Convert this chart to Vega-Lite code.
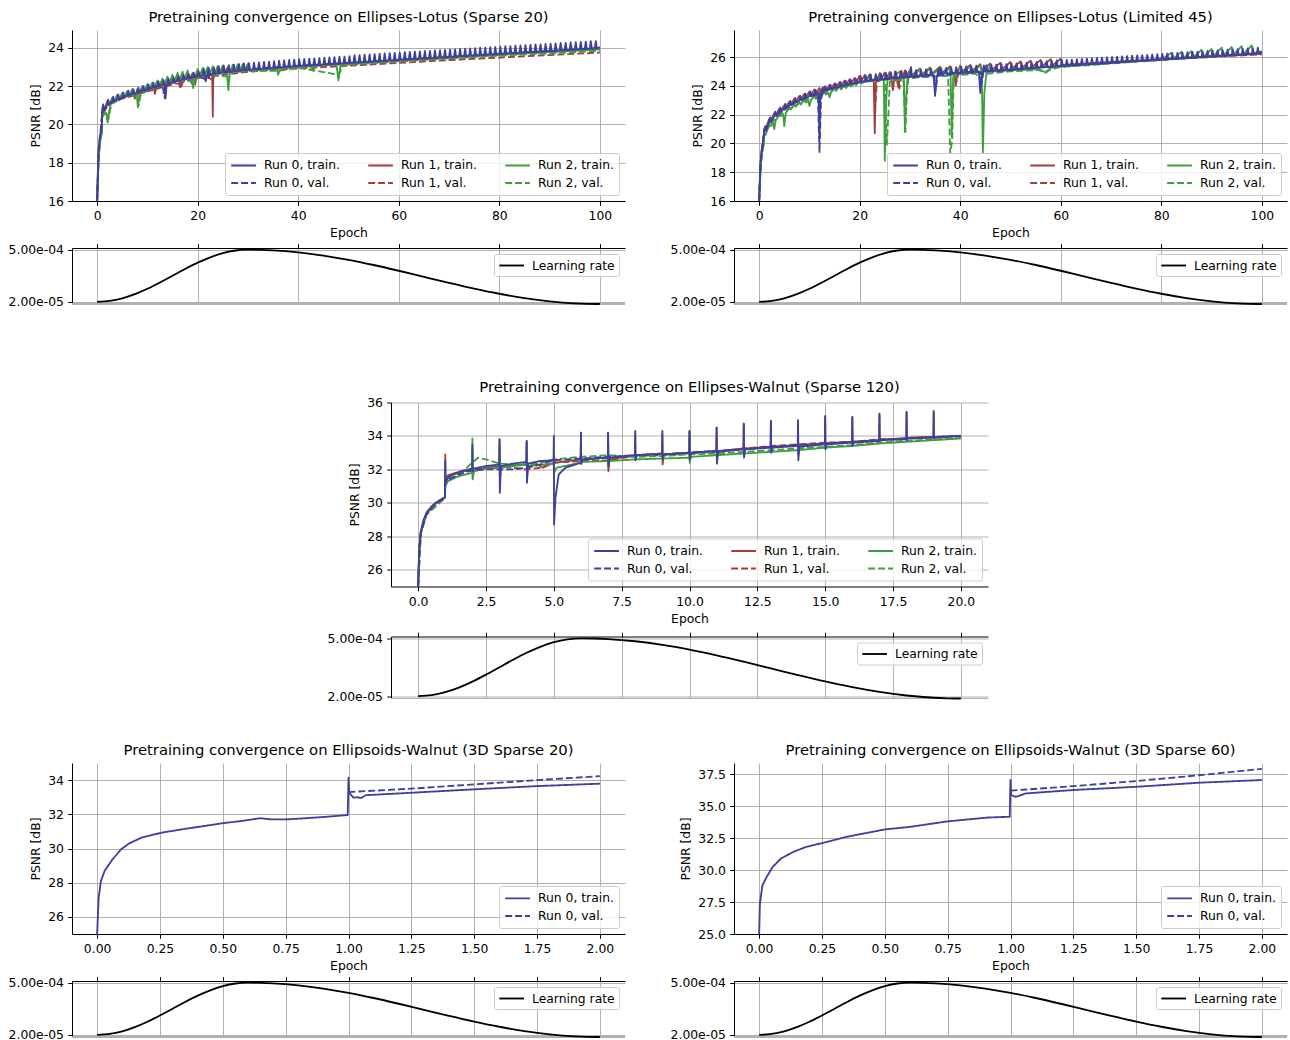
{
"$schema":"https://vega.github.io/schema/vega-lite/v6.json",
"background":"white",
"padding":{"left":8,"top":9,"right":0,"bottom":0},
"config":{
 "font":"DejaVu Sans",
 "view":{"stroke":null},
 "axis":{"labelFont":"DejaVu Sans","labelFontSize":12.36,"labelColor":"#000","titleFont":"DejaVu Sans","titleFontSize":12.36,"titleFontWeight":"normal","titleColor":"#000","tickColor":"#000","tickSize":4.3,"tickWidth":1,"labelPadding":4.3,"domainColor":"#000","domainWidth":1,"gridColor":"#b0b0b0","gridWidth":1,"gridOpacity":1,"titlePadding":4.9,"labelFlush":false,"labelOverlap":false},
 "title":{"font":"DejaVu Sans","fontSize":14.8,"fontWeight":"normal","color":"#000","offset":5.4,"baseline":"bottom","frame":"group","anchor":"middle"},
 "legend":{"offset":6.2,"symbolType":"M-1,0H3","symbolSize":152.6,"symbolStrokeWidth":1.85,"labelFont":"DejaVu Sans","labelFontSize":12.36,"labelColor":"#000","labelOffset":19,"columnPadding":26,"rowPadding":3.6,"padding":4.9,"fillColor":"rgba(255,255,255,0.8)","strokeColor":"#cccccc","strokeWidth":1,"cornerRadius":2.5,"labelLimit":300},
 "line":{"strokeWidth":1.85,"strokeJoin":"round"},
 "rule":{"color":"#b0b0b0","strokeWidth":1}
},
"datasets":{
"LR":[{"e100":0,"e20":0,"e2":0,"lr":2e-5},{"e100":2.5,"e20":0.5,"e2":0.05,"lr":2.818e-5},{"e100":5,"e20":1,"e2":0.1,"lr":5.216e-5},{"e100":7.5,"e20":1.5,"e2":0.15,"lr":9.03e-5},{"e100":10,"e20":2,"e2":0.2,"lr":1.4e-4},{"e100":12.5,"e20":2.5,"e2":0.25,"lr":1.979e-4},{"e100":15,"e20":3,"e2":0.3,"lr":2.6e-4},{"e100":17.5,"e20":3.5,"e2":0.35,"lr":3.221e-4},{"e100":20,"e20":4,"e2":0.4,"lr":3.8e-4},{"e100":22.5,"e20":4.5,"e2":0.45,"lr":4.297e-4},{"e100":25,"e20":5,"e2":0.5,"lr":4.678e-4},{"e100":27.5,"e20":5.5,"e2":0.55,"lr":4.918e-4},{"e100":30,"e20":6,"e2":0.6,"lr":5e-4},{"e100":32.5,"e20":6.5,"e2":0.65,"lr":4.984e-4},{"e100":35,"e20":7,"e2":0.7,"lr":4.937e-4},{"e100":40,"e20":8,"e2":0.8,"lr":4.752e-4},{"e100":45,"e20":9,"e2":0.9,"lr":4.455e-4},{"e100":50,"e20":10,"e2":1,"lr":4.059e-4},{"e100":55,"e20":11,"e2":1.1,"lr":3.585e-4},{"e100":60,"e20":12,"e2":1.2,"lr":3.056e-4},{"e100":65,"e20":13,"e2":1.3,"lr":2.5e-4},{"e100":70,"e20":14,"e2":1.4,"lr":1.944e-4},{"e100":75,"e20":15,"e2":1.5,"lr":1.415e-4},{"e100":80,"e20":16,"e2":1.6,"lr":9.41e-5},{"e100":85,"e20":17,"e2":1.7,"lr":5.45e-5},{"e100":90,"e20":18,"e2":1.8,"lr":2.48e-5},{"e100":95,"e20":19,"e2":1.9,"lr":6.27e-6},{"e100":97.5,"e20":19.5,"e2":1.95,"lr":1.57e-6},{"e100":100,"e20":20,"e2":2,"lr":0}],
"A0t":[{"x":0,"y":16},{"x":0.15,"y":17.6},{"x":0.3,"y":18.7},{"x":0.5,"y":19.3},{"x":0.7,"y":19.6},{"x":0.95,"y":19.9},{"x":1,"y":20.8},{"x":1.2,"y":21.05},{"x":1.4,"y":20.8},{"x":2,"y":21.05},{"x":2.2,"y":21.3},{"x":2.4,"y":21.05},{"x":3,"y":21.2},{"x":3.2,"y":21.45},{"x":3.4,"y":21.2},{"x":4,"y":21.32},{"x":4.2,"y":21.57},{"x":4.4,"y":21.32},{"x":5,"y":21.42},{"x":5.2,"y":21.67},{"x":5.4,"y":21.42},{"x":6,"y":21.52},{"x":6.2,"y":21.77},{"x":6.4,"y":21.52},{"x":7,"y":21.6},{"x":7.2,"y":21.85},{"x":7.4,"y":21.6},{"x":8,"y":21.68},{"x":8.2,"y":21.93},{"x":8.4,"y":21.68},{"x":9,"y":21.76},{"x":9.2,"y":22.01},{"x":9.4,"y":21.76},{"x":10,"y":21.84},{"x":10.2,"y":22.09},{"x":10.4,"y":21.84},{"x":11,"y":21.92},{"x":11.2,"y":22.17},{"x":11.4,"y":21.92},{"x":12,"y":22.0},{"x":12.2,"y":22.25},{"x":12.4,"y":22.0},{"x":13,"y":22.07},{"x":13.2,"y":22.32},{"x":13.4,"y":22.07},{"x":13.6,"y":21.35},{"x":13.8,"y":22.0},{"x":14,"y":22.14},{"x":14.2,"y":22.39},{"x":14.4,"y":22.14},{"x":15,"y":22.21},{"x":15.2,"y":22.46},{"x":15.4,"y":22.21},{"x":16,"y":22.28},{"x":16.2,"y":22.53},{"x":16.4,"y":22.28},{"x":17,"y":22.34},{"x":17.2,"y":22.59},{"x":17.4,"y":22.34},{"x":18,"y":22.4},{"x":18.2,"y":22.65},{"x":18.4,"y":22.4},{"x":19,"y":22.46},{"x":19.2,"y":22.71},{"x":19.4,"y":22.46},{"x":20,"y":22.52},{"x":20.2,"y":22.77},{"x":20.4,"y":22.52},{"x":21,"y":22.57},{"x":21.2,"y":22.92},{"x":21.4,"y":22.57},{"x":21.6,"y":22.25},{"x":21.8,"y":22.55},{"x":22,"y":22.61},{"x":22.2,"y":22.96},{"x":22.4,"y":22.61},{"x":23,"y":22.65},{"x":23.2,"y":23.0},{"x":23.4,"y":22.65},{"x":24,"y":22.69},{"x":24.2,"y":23.04},{"x":24.4,"y":22.69},{"x":25,"y":22.72},{"x":25.2,"y":23.07},{"x":25.4,"y":22.72},{"x":26,"y":22.75},{"x":26.2,"y":23.1},{"x":26.4,"y":22.75},{"x":27,"y":22.78},{"x":27.2,"y":23.13},{"x":27.4,"y":22.78},{"x":28,"y":22.81},{"x":28.2,"y":23.16},{"x":28.4,"y":22.81},{"x":29,"y":22.84},{"x":29.2,"y":23.19},{"x":29.4,"y":22.84},{"x":30,"y":22.86},{"x":30.2,"y":23.21},{"x":30.4,"y":22.86},{"x":31,"y":22.88},{"x":31.2,"y":23.23},{"x":31.4,"y":22.88},{"x":32,"y":22.9},{"x":32.2,"y":23.25},{"x":32.4,"y":22.9},{"x":33,"y":22.92},{"x":33.2,"y":23.27},{"x":33.4,"y":22.92},{"x":34,"y":22.94},{"x":34.2,"y":23.29},{"x":34.4,"y":22.94},{"x":35,"y":22.96},{"x":35.2,"y":23.31},{"x":35.4,"y":22.96},{"x":36,"y":22.98},{"x":36.2,"y":23.33},{"x":36.4,"y":22.98},{"x":37,"y":23.0},{"x":37.2,"y":23.35},{"x":37.4,"y":23.0},{"x":38,"y":23.02},{"x":38.2,"y":23.37},{"x":38.4,"y":23.02},{"x":39,"y":23.04},{"x":39.2,"y":23.39},{"x":39.4,"y":23.04},{"x":40,"y":23.06},{"x":40.2,"y":23.41},{"x":40.4,"y":23.06},{"x":41,"y":23.08},{"x":41.2,"y":23.43},{"x":41.4,"y":23.08},{"x":42,"y":23.09},{"x":42.2,"y":23.44},{"x":42.4,"y":23.09},{"x":43,"y":23.11},{"x":43.2,"y":23.46},{"x":43.4,"y":23.11},{"x":44,"y":23.12},{"x":44.2,"y":23.47},{"x":44.4,"y":23.12},{"x":45,"y":23.14},{"x":45.2,"y":23.49},{"x":45.4,"y":23.14},{"x":46,"y":23.16},{"x":46.2,"y":23.51},{"x":46.4,"y":23.16},{"x":47,"y":23.17},{"x":47.2,"y":23.52},{"x":47.4,"y":23.17},{"x":48,"y":23.19},{"x":48.2,"y":23.54},{"x":48.4,"y":23.19},{"x":49,"y":23.2},{"x":49.2,"y":23.55},{"x":49.4,"y":23.2},{"x":50,"y":23.22},{"x":50.2,"y":23.57},{"x":50.4,"y":23.22},{"x":51,"y":23.24},{"x":51.2,"y":23.62},{"x":51.4,"y":23.24},{"x":52,"y":23.25},{"x":52.2,"y":23.63},{"x":52.4,"y":23.25},{"x":53,"y":23.27},{"x":53.2,"y":23.65},{"x":53.4,"y":23.27},{"x":54,"y":23.28},{"x":54.2,"y":23.66},{"x":54.4,"y":23.28},{"x":55,"y":23.3},{"x":55.2,"y":23.68},{"x":55.4,"y":23.3},{"x":56,"y":23.32},{"x":56.2,"y":23.7},{"x":56.4,"y":23.32},{"x":57,"y":23.33},{"x":57.2,"y":23.71},{"x":57.4,"y":23.33},{"x":58,"y":23.35},{"x":58.2,"y":23.73},{"x":58.4,"y":23.35},{"x":59,"y":23.36},{"x":59.2,"y":23.74},{"x":59.4,"y":23.36},{"x":60,"y":23.38},{"x":60.2,"y":23.76},{"x":60.4,"y":23.38},{"x":61,"y":23.4},{"x":61.2,"y":23.78},{"x":61.4,"y":23.4},{"x":62,"y":23.41},{"x":62.2,"y":23.79},{"x":62.4,"y":23.41},{"x":63,"y":23.43},{"x":63.2,"y":23.81},{"x":63.4,"y":23.43},{"x":64,"y":23.44},{"x":64.2,"y":23.82},{"x":64.4,"y":23.44},{"x":65,"y":23.46},{"x":65.2,"y":23.84},{"x":65.4,"y":23.46},{"x":66,"y":23.47},{"x":66.2,"y":23.85},{"x":66.4,"y":23.47},{"x":67,"y":23.49},{"x":67.2,"y":23.87},{"x":67.4,"y":23.49},{"x":68,"y":23.5},{"x":68.2,"y":23.88},{"x":68.4,"y":23.5},{"x":69,"y":23.52},{"x":69.2,"y":23.9},{"x":69.4,"y":23.52},{"x":70,"y":23.53},{"x":70.2,"y":23.91},{"x":70.4,"y":23.53},{"x":71,"y":23.55},{"x":71.2,"y":23.93},{"x":71.4,"y":23.55},{"x":72,"y":23.57},{"x":72.2,"y":23.95},{"x":72.4,"y":23.57},{"x":73,"y":23.58},{"x":73.2,"y":23.96},{"x":73.4,"y":23.58},{"x":74,"y":23.6},{"x":74.2,"y":23.98},{"x":74.4,"y":23.6},{"x":75,"y":23.61},{"x":75.2,"y":23.99},{"x":75.4,"y":23.61},{"x":76,"y":23.63},{"x":76.2,"y":24.01},{"x":76.4,"y":23.63},{"x":77,"y":23.64},{"x":77.2,"y":24.02},{"x":77.4,"y":23.64},{"x":78,"y":23.66},{"x":78.2,"y":24.04},{"x":78.4,"y":23.66},{"x":79,"y":23.67},{"x":79.2,"y":24.05},{"x":79.4,"y":23.67},{"x":80,"y":23.69},{"x":80.2,"y":24.07},{"x":80.4,"y":23.69},{"x":81,"y":23.71},{"x":81.2,"y":24.09},{"x":81.4,"y":23.71},{"x":82,"y":23.72},{"x":82.2,"y":24.1},{"x":82.4,"y":23.72},{"x":83,"y":23.74},{"x":83.2,"y":24.12},{"x":83.4,"y":23.74},{"x":84,"y":23.75},{"x":84.2,"y":24.13},{"x":84.4,"y":23.75},{"x":85,"y":23.77},{"x":85.2,"y":24.15},{"x":85.4,"y":23.77},{"x":86,"y":23.78},{"x":86.2,"y":24.16},{"x":86.4,"y":23.78},{"x":87,"y":23.8},{"x":87.2,"y":24.18},{"x":87.4,"y":23.8},{"x":88,"y":23.81},{"x":88.2,"y":24.19},{"x":88.4,"y":23.81},{"x":89,"y":23.83},{"x":89.2,"y":24.21},{"x":89.4,"y":23.83},{"x":90,"y":23.84},{"x":90.2,"y":24.22},{"x":90.4,"y":23.84},{"x":91,"y":23.86},{"x":91.2,"y":24.24},{"x":91.4,"y":23.86},{"x":92,"y":23.88},{"x":92.2,"y":24.26},{"x":92.4,"y":23.88},{"x":93,"y":23.89},{"x":93.2,"y":24.27},{"x":93.4,"y":23.89},{"x":94,"y":23.91},{"x":94.2,"y":24.29},{"x":94.4,"y":23.91},{"x":95,"y":23.92},{"x":95.2,"y":24.3},{"x":95.4,"y":23.92},{"x":96,"y":23.94},{"x":96.2,"y":24.32},{"x":96.4,"y":23.94},{"x":97,"y":23.95},{"x":97.2,"y":24.33},{"x":97.4,"y":23.95},{"x":98,"y":23.97},{"x":98.2,"y":24.35},{"x":98.4,"y":23.97},{"x":99,"y":23.98},{"x":99.2,"y":24.36},{"x":99.4,"y":23.98},{"x":100,"y":24.05}],
"A0v":[{"x":0,"y":16},{"x":0.3,"y":18.6},{"x":0.6,"y":19.4},{"x":1,"y":20.6},{"x":2,"y":21.0},{"x":3,"y":21.2},{"x":5,"y":21.4},{"x":7,"y":21.6},{"x":10,"y":21.85},{"x":12,"y":22.0},{"x":13,"y":22.05},{"x":13.4,"y":21.4},{"x":13.7,"y":22.05},{"x":16,"y":22.3},{"x":20,"y":22.55},{"x":22,"y":22.3},{"x":22.4,"y":22.62},{"x":25,"y":22.73},{"x":30,"y":22.88},{"x":35,"y":22.98},{"x":40,"y":23.07},{"x":50,"y":23.22},{"x":60,"y":23.38},{"x":70,"y":23.53},{"x":80,"y":23.69},{"x":90,"y":23.84},{"x":100,"y":24.0}],
"A1t":[{"x":0,"y":16},{"x":0.3,"y":18.5},{"x":0.6,"y":19.3},{"x":0.95,"y":19.6},{"x":1,"y":20.7},{"x":1.3,"y":20.6},{"x":2,"y":21.2},{"x":2.3,"y":21.0},{"x":3,"y":21.35},{"x":3.3,"y":21.15},{"x":4,"y":21.45},{"x":4.3,"y":21.27},{"x":5,"y":21.55},{"x":5.3,"y":21.37},{"x":6,"y":21.65},{"x":6.3,"y":21.47},{"x":7,"y":21.75},{"x":7.3,"y":21.55},{"x":7.5,"y":21.35},{"x":7.7,"y":21.55},{"x":8,"y":21.85},{"x":8.3,"y":21.63},{"x":9,"y":21.95},{"x":9.3,"y":21.71},{"x":10,"y":22.05},{"x":10.3,"y":21.79},{"x":11,"y":22.13},{"x":11.3,"y":21.87},{"x":11.5,"y":21.6},{"x":11.7,"y":21.85},{"x":12,"y":22.2},{"x":12.3,"y":21.95},{"x":13,"y":22.28},{"x":13.3,"y":22.02},{"x":14,"y":22.36},{"x":14.3,"y":22.09},{"x":15,"y":22.43},{"x":15.3,"y":22.16},{"x":16,"y":22.5},{"x":16.3,"y":22.23},{"x":16.5,"y":21.95},{"x":16.7,"y":22.2},{"x":17,"y":22.56},{"x":17.3,"y":22.29},{"x":18,"y":22.62},{"x":18.3,"y":22.35},{"x":19,"y":22.68},{"x":19.3,"y":22.41},{"x":19.5,"y":22.1},{"x":19.7,"y":22.4},{"x":20,"y":22.74},{"x":20.3,"y":22.47},{"x":21,"y":22.85},{"x":21.3,"y":22.52},{"x":22,"y":22.9},{"x":22.3,"y":22.56},{"x":22.9,"y":22.6},{"x":23,"y":20.4},{"x":23.1,"y":22.55},{"x":23.3,"y":22.6},{"x":24,"y":22.95},{"x":24.3,"y":22.64},{"x":25,"y":22.98},{"x":25.3,"y":22.67},{"x":26,"y":23.0},{"x":26.3,"y":22.7},{"x":27,"y":23.03},{"x":27.3,"y":22.73},{"x":28,"y":23.05},{"x":28.3,"y":22.76},{"x":29,"y":23.08},{"x":29.3,"y":22.79},{"x":30,"y":23.1},{"x":30.3,"y":22.81},{"x":35,"y":22.91},{"x":40,"y":23.01},{"x":45,"y":23.09},{"x":50,"y":23.17},{"x":55,"y":23.25},{"x":60,"y":23.33},{"x":65,"y":23.41},{"x":70,"y":23.48},{"x":75,"y":23.56},{"x":80,"y":23.64},{"x":85,"y":23.72},{"x":90,"y":23.79},{"x":95,"y":23.87},{"x":100,"y":23.95}],
"A1v":[{"x":0,"y":16},{"x":0.3,"y":18.4},{"x":0.6,"y":19.2},{"x":1,"y":20.5},{"x":2,"y":20.95},{"x":3,"y":21.15},{"x":5,"y":21.35},{"x":7,"y":21.5},{"x":9,"y":21.65},{"x":11,"y":21.8},{"x":13,"y":21.95},{"x":15,"y":22.1},{"x":16.3,"y":22.15},{"x":16.6,"y":21.9},{"x":17,"y":22.2},{"x":20,"y":22.42},{"x":22,"y":22.5},{"x":23,"y":22.3},{"x":23.3,"y":22.55},{"x":25,"y":22.6},{"x":30,"y":22.75},{"x":35,"y":22.85},{"x":40,"y":22.93},{"x":50,"y":23.07},{"x":60,"y":23.22},{"x":70,"y":23.37},{"x":80,"y":23.5},{"x":90,"y":23.63},{"x":100,"y":23.76}],
"A2t":[{"x":0,"y":16},{"x":0.3,"y":18.4},{"x":0.6,"y":19.2},{"x":0.95,"y":19.5},{"x":1,"y":20.6},{"x":1.3,"y":20.5},{"x":1.8,"y":20.6},{"x":2.1,"y":20.1},{"x":2.4,"y":20.7},{"x":3,"y":21.4},{"x":3.3,"y":21.15},{"x":4,"y":21.55},{"x":4.3,"y":21.28},{"x":5,"y":21.65},{"x":5.3,"y":21.38},{"x":6,"y":21.75},{"x":6.3,"y":21.48},{"x":7,"y":21.85},{"x":7.3,"y":21.56},{"x":7.9,"y":21.6},{"x":8.1,"y":20.9},{"x":8.4,"y":21.6},{"x":9,"y":22.0},{"x":9.3,"y":21.72},{"x":10,"y":22.1},{"x":10.3,"y":21.8},{"x":11,"y":22.2},{"x":11.3,"y":21.88},{"x":12,"y":22.3},{"x":12.3,"y":21.96},{"x":13,"y":22.4},{"x":13.3,"y":22.03},{"x":14,"y":22.5},{"x":14.3,"y":22.1},{"x":15,"y":22.6},{"x":15.3,"y":22.17},{"x":16,"y":22.7},{"x":16.3,"y":22.24},{"x":17,"y":22.76},{"x":17.3,"y":22.3},{"x":18,"y":22.82},{"x":18.3,"y":22.36},{"x":18.8,"y":22.4},{"x":19.1,"y":21.9},{"x":19.4,"y":22.4},{"x":20,"y":22.9},{"x":20.3,"y":22.48},{"x":21,"y":22.95},{"x":21.3,"y":22.53},{"x":22,"y":23.0},{"x":22.3,"y":22.57},{"x":23,"y":23.03},{"x":23.3,"y":22.61},{"x":24,"y":23.06},{"x":24.3,"y":22.65},{"x":25,"y":23.09},{"x":25.3,"y":22.68},{"x":25.8,"y":22.7},{"x":26.1,"y":21.8},{"x":26.4,"y":22.7},{"x":27,"y":23.12},{"x":27.3,"y":22.74},{"x":28,"y":23.14},{"x":28.3,"y":22.77},{"x":29,"y":23.16},{"x":29.3,"y":22.8},{"x":30,"y":23.18},{"x":30.3,"y":22.82},{"x":35,"y":22.93},{"x":35.7,"y":22.95},{"x":36,"y":22.6},{"x":36.4,"y":22.95},{"x":40,"y":23.03},{"x":42.7,"y":23.07},{"x":43,"y":22.8},{"x":43.4,"y":23.08},{"x":45,"y":23.1},{"x":47.6,"y":23.15},{"x":48,"y":22.3},{"x":48.4,"y":23.1},{"x":48.8,"y":23.16},{"x":50,"y":23.18},{"x":60,"y":23.35},{"x":70,"y":23.5},{"x":80,"y":23.65},{"x":90,"y":23.8},{"x":100,"y":23.93}],
"A2v":[{"x":0,"y":16},{"x":0.3,"y":18.3},{"x":0.6,"y":19.1},{"x":1,"y":20.4},{"x":2,"y":20.5},{"x":2.3,"y":20.3},{"x":2.6,"y":20.8},{"x":3,"y":21.1},{"x":5,"y":21.4},{"x":7,"y":21.55},{"x":8,"y":21.3},{"x":8.3,"y":21.0},{"x":8.6,"y":21.5},{"x":10,"y":21.8},{"x":12,"y":22.0},{"x":15,"y":22.25},{"x":18,"y":22.45},{"x":19,"y":22.1},{"x":19.5,"y":22.4},{"x":22,"y":22.6},{"x":26,"y":22.5},{"x":26.5,"y":22.7},{"x":30,"y":22.8},{"x":36,"y":22.8},{"x":40,"y":22.97},{"x":48,"y":22.6},{"x":49,"y":23.1},{"x":60,"y":23.3},{"x":70,"y":23.45},{"x":80,"y":23.6},{"x":90,"y":23.72},{"x":100,"y":23.85}],
"B0t":[{"x":0,"y":16},{"x":0.15,"y":17.5},{"x":0.3,"y":18.7},{"x":0.5,"y":19.5},{"x":0.75,"y":20.1},{"x":0.95,"y":20.5},{"x":1,"y":20.9},{"x":1.2,"y":21.2},{"x":1.4,"y":20.9},{"x":2,"y":21.5},{"x":2.2,"y":21.8},{"x":2.4,"y":21.5},{"x":3,"y":21.9},{"x":3.2,"y":22.2},{"x":3.4,"y":21.9},{"x":4,"y":22.2},{"x":4.2,"y":22.5},{"x":4.4,"y":22.2},{"x":5,"y":22.45},{"x":5.2,"y":22.75},{"x":5.4,"y":22.45},{"x":6,"y":22.65},{"x":6.2,"y":22.95},{"x":6.4,"y":22.65},{"x":7,"y":22.85},{"x":7.2,"y":23.15},{"x":7.4,"y":22.85},{"x":8,"y":23.0},{"x":8.2,"y":23.3},{"x":8.4,"y":23.0},{"x":9,"y":23.15},{"x":9.2,"y":23.45},{"x":9.4,"y":23.15},{"x":10,"y":23.3},{"x":10.2,"y":23.6},{"x":10.4,"y":23.3},{"x":11,"y":23.42},{"x":11.2,"y":23.72},{"x":11.4,"y":23.42},{"x":11.8,"y":23.5},{"x":12,"y":20.3},{"x":12.2,"y":23.4},{"x":12.4,"y":23.55},{"x":12.6,"y":23.85},{"x":12.8,"y":23.55},{"x":13,"y":23.66},{"x":13.2,"y":23.96},{"x":13.4,"y":23.66},{"x":14,"y":23.77},{"x":14.2,"y":24.07},{"x":14.4,"y":23.77},{"x":15,"y":23.87},{"x":15.2,"y":24.17},{"x":15.4,"y":23.87},{"x":16,"y":23.96},{"x":16.2,"y":24.26},{"x":16.4,"y":23.96},{"x":17,"y":24.05},{"x":17.2,"y":24.35},{"x":17.4,"y":24.05},{"x":18,"y":24.13},{"x":18.2,"y":24.43},{"x":18.4,"y":24.13},{"x":19,"y":24.2},{"x":19.2,"y":24.5},{"x":19.4,"y":24.2},{"x":20,"y":24.27},{"x":20.2,"y":24.67},{"x":20.4,"y":24.27},{"x":21,"y":24.32},{"x":21.2,"y":24.72},{"x":21.4,"y":24.32},{"x":22,"y":24.37},{"x":22.2,"y":24.77},{"x":22.4,"y":24.37},{"x":23,"y":24.41},{"x":23.2,"y":24.81},{"x":23.4,"y":24.41},{"x":24,"y":24.45},{"x":24.2,"y":24.85},{"x":24.4,"y":24.45},{"x":25,"y":24.49},{"x":25.2,"y":24.89},{"x":25.4,"y":24.49},{"x":26,"y":24.53},{"x":26.2,"y":24.93},{"x":26.4,"y":24.53},{"x":27,"y":24.56},{"x":27.2,"y":24.96},{"x":27.4,"y":24.56},{"x":28,"y":24.59},{"x":28.2,"y":24.99},{"x":28.4,"y":24.59},{"x":29,"y":24.62},{"x":29.2,"y":25.02},{"x":29.4,"y":24.62},{"x":30,"y":24.65},{"x":30.2,"y":25.3},{"x":30.4,"y":24.65},{"x":31,"y":24.68},{"x":31.2,"y":25.08},{"x":31.4,"y":24.68},{"x":32,"y":24.71},{"x":32.2,"y":25.11},{"x":32.4,"y":24.71},{"x":33,"y":24.74},{"x":33.2,"y":25.14},{"x":33.4,"y":24.74},{"x":34,"y":24.77},{"x":34.2,"y":25.17},{"x":34.4,"y":24.77},{"x":34.7,"y":24.7},{"x":35,"y":23.3},{"x":35.3,"y":24.6},{"x":35.5,"y":24.8},{"x":35.7,"y":25.2},{"x":35.9,"y":24.8},{"x":36,"y":24.83},{"x":36.2,"y":25.23},{"x":36.4,"y":24.83},{"x":37,"y":24.85},{"x":37.2,"y":25.25},{"x":37.4,"y":24.85},{"x":38,"y":24.87},{"x":38.2,"y":25.27},{"x":38.4,"y":24.87},{"x":39,"y":24.9},{"x":39.2,"y":25.3},{"x":39.4,"y":24.9},{"x":40,"y":24.92},{"x":40.2,"y":25.32},{"x":40.4,"y":24.92},{"x":41,"y":24.95},{"x":41.2,"y":25.35},{"x":41.4,"y":24.95},{"x":42,"y":24.97},{"x":42.2,"y":25.37},{"x":42.4,"y":24.97},{"x":43,"y":24.99},{"x":43.2,"y":25.39},{"x":43.4,"y":24.99},{"x":43.7,"y":25.0},{"x":44,"y":23.5},{"x":44.3,"y":24.9},{"x":44.5,"y":25.01},{"x":44.7,"y":25.41},{"x":44.9,"y":25.01},{"x":45,"y":25.03},{"x":45.2,"y":25.43},{"x":45.4,"y":25.03},{"x":46,"y":25.05},{"x":46.2,"y":25.45},{"x":46.4,"y":25.05},{"x":47,"y":25.07},{"x":47.2,"y":25.47},{"x":47.4,"y":25.07},{"x":48,"y":25.09},{"x":48.2,"y":25.49},{"x":48.4,"y":25.09},{"x":49,"y":25.11},{"x":49.2,"y":25.51},{"x":49.4,"y":25.11},{"x":50,"y":25.13},{"x":50.2,"y":25.53},{"x":50.4,"y":25.13},{"x":51,"y":25.16},{"x":51.2,"y":25.56},{"x":51.4,"y":25.16},{"x":52,"y":25.18},{"x":52.2,"y":25.58},{"x":52.4,"y":25.18},{"x":53,"y":25.21},{"x":53.2,"y":25.61},{"x":53.4,"y":25.21},{"x":54,"y":25.23},{"x":54.2,"y":25.63},{"x":54.4,"y":25.23},{"x":55,"y":25.26},{"x":55.2,"y":25.66},{"x":55.4,"y":25.26},{"x":56,"y":25.28},{"x":56.2,"y":25.68},{"x":56.4,"y":25.28},{"x":57,"y":25.31},{"x":57.2,"y":25.71},{"x":57.4,"y":25.31},{"x":58,"y":25.33},{"x":58.2,"y":25.73},{"x":58.4,"y":25.33},{"x":59,"y":25.36},{"x":59.2,"y":25.76},{"x":59.4,"y":25.36},{"x":60,"y":25.38},{"x":60.2,"y":25.78},{"x":60.4,"y":25.38},{"x":61,"y":25.4},{"x":61.2,"y":25.8},{"x":61.4,"y":25.4},{"x":62,"y":25.42},{"x":62.2,"y":25.82},{"x":62.4,"y":25.42},{"x":63,"y":25.44},{"x":63.2,"y":25.84},{"x":63.4,"y":25.44},{"x":64,"y":25.47},{"x":64.2,"y":25.87},{"x":64.4,"y":25.47},{"x":65,"y":25.49},{"x":65.2,"y":25.89},{"x":65.4,"y":25.49},{"x":66,"y":25.51},{"x":66.2,"y":25.91},{"x":66.4,"y":25.51},{"x":67,"y":25.53},{"x":67.2,"y":25.93},{"x":67.4,"y":25.53},{"x":68,"y":25.55},{"x":68.2,"y":25.95},{"x":68.4,"y":25.55},{"x":69,"y":25.58},{"x":69.2,"y":25.98},{"x":69.4,"y":25.58},{"x":70,"y":25.6},{"x":70.2,"y":26.0},{"x":70.4,"y":25.6},{"x":71,"y":25.62},{"x":71.2,"y":26.02},{"x":71.4,"y":25.62},{"x":72,"y":25.64},{"x":72.2,"y":26.04},{"x":72.4,"y":25.64},{"x":73,"y":25.66},{"x":73.2,"y":26.06},{"x":73.4,"y":25.66},{"x":74,"y":25.69},{"x":74.2,"y":26.09},{"x":74.4,"y":25.69},{"x":75,"y":25.71},{"x":75.2,"y":26.11},{"x":75.4,"y":25.71},{"x":76,"y":25.73},{"x":76.2,"y":26.13},{"x":76.4,"y":25.73},{"x":77,"y":25.75},{"x":77.2,"y":26.15},{"x":77.4,"y":25.75},{"x":78,"y":25.77},{"x":78.2,"y":26.17},{"x":78.4,"y":25.77},{"x":79,"y":25.8},{"x":79.2,"y":26.2},{"x":79.4,"y":25.8},{"x":80,"y":25.82},{"x":80.2,"y":26.22},{"x":80.4,"y":25.82},{"x":81,"y":25.84},{"x":81.2,"y":26.24},{"x":81.4,"y":25.84},{"x":82,"y":25.86},{"x":82.2,"y":26.26},{"x":82.4,"y":25.86},{"x":83,"y":25.88},{"x":83.2,"y":26.28},{"x":83.4,"y":25.88},{"x":84,"y":25.91},{"x":84.2,"y":26.31},{"x":84.4,"y":25.91},{"x":85,"y":25.93},{"x":85.2,"y":26.33},{"x":85.4,"y":25.93},{"x":86,"y":25.95},{"x":86.2,"y":26.35},{"x":86.4,"y":25.95},{"x":87,"y":25.97},{"x":87.2,"y":26.37},{"x":87.4,"y":25.97},{"x":88,"y":25.99},{"x":88.2,"y":26.39},{"x":88.4,"y":25.99},{"x":89,"y":26.02},{"x":89.2,"y":26.42},{"x":89.4,"y":26.02},{"x":90,"y":26.04},{"x":90.2,"y":26.44},{"x":90.4,"y":26.04},{"x":91,"y":26.06},{"x":91.2,"y":26.46},{"x":91.4,"y":26.06},{"x":92,"y":26.08},{"x":92.2,"y":26.48},{"x":92.4,"y":26.08},{"x":93,"y":26.1},{"x":93.2,"y":26.5},{"x":93.4,"y":26.1},{"x":94,"y":26.13},{"x":94.2,"y":26.53},{"x":94.4,"y":26.13},{"x":95,"y":26.15},{"x":95.2,"y":26.55},{"x":95.4,"y":26.15},{"x":96,"y":26.17},{"x":96.2,"y":26.57},{"x":96.4,"y":26.17},{"x":97,"y":26.19},{"x":97.2,"y":26.59},{"x":97.4,"y":26.19},{"x":98,"y":26.21},{"x":98.2,"y":26.61},{"x":98.4,"y":26.21},{"x":99,"y":26.24},{"x":99.2,"y":26.64},{"x":99.4,"y":26.24},{"x":100,"y":26.35}],
"B0v":[{"x":0,"y":16},{"x":0.3,"y":18.6},{"x":0.6,"y":19.6},{"x":1,"y":20.8},{"x":2,"y":21.4},{"x":3,"y":21.8},{"x":5,"y":22.35},{"x":7,"y":22.8},{"x":9,"y":23.1},{"x":11,"y":23.35},{"x":11.7,"y":23.4},{"x":12,"y":19.4},{"x":12.3,"y":23.0},{"x":12.6,"y":23.55},{"x":14,"y":23.75},{"x":16,"y":23.95},{"x":18,"y":24.1},{"x":20,"y":24.25},{"x":22,"y":24.35},{"x":25,"y":24.45},{"x":30,"y":24.6},{"x":34.8,"y":24.7},{"x":35.1,"y":23.7},{"x":35.5,"y":24.7},{"x":40,"y":24.85},{"x":44,"y":24.95},{"x":44.3,"y":24.2},{"x":44.6,"y":24.95},{"x":50,"y":25.1},{"x":60,"y":25.38},{"x":70,"y":25.6},{"x":80,"y":25.82},{"x":90,"y":26.04},{"x":100,"y":26.25}],
"B1t":[{"x":0,"y":16},{"x":0.3,"y":18.8},{"x":0.6,"y":19.8},{"x":0.95,"y":20.3},{"x":1,"y":21.0},{"x":1.3,"y":21.0},{"x":2,"y":21.7},{"x":2.3,"y":21.55},{"x":3,"y":22.1},{"x":3.3,"y":21.95},{"x":4,"y":22.4},{"x":4.3,"y":22.25},{"x":5,"y":22.65},{"x":5.3,"y":22.5},{"x":6,"y":22.9},{"x":6.3,"y":22.7},{"x":7,"y":23.1},{"x":7.3,"y":22.9},{"x":8,"y":23.3},{"x":8.3,"y":23.05},{"x":9,"y":23.45},{"x":9.3,"y":23.2},{"x":10,"y":23.6},{"x":10.3,"y":23.35},{"x":11,"y":23.75},{"x":11.3,"y":23.47},{"x":12,"y":23.85},{"x":12.3,"y":23.6},{"x":13,"y":23.95},{"x":13.3,"y":23.7},{"x":14,"y":24.05},{"x":14.3,"y":23.8},{"x":15,"y":24.15},{"x":15.3,"y":23.9},{"x":16,"y":24.25},{"x":16.3,"y":24.0},{"x":17,"y":24.35},{"x":17.3,"y":24.08},{"x":18,"y":24.45},{"x":18.3,"y":24.15},{"x":19,"y":24.55},{"x":19.3,"y":24.22},{"x":20,"y":24.7},{"x":20.3,"y":24.3},{"x":21,"y":24.75},{"x":21.3,"y":24.35},{"x":22,"y":24.8},{"x":22.3,"y":24.4},{"x":22.8,"y":24.4},{"x":23,"y":20.7},{"x":23.2,"y":24.2},{"x":23.5,"y":24.4},{"x":24,"y":24.88},{"x":24.3,"y":24.48},{"x":25,"y":24.92},{"x":25.3,"y":24.52},{"x":26,"y":24.96},{"x":26.3,"y":24.56},{"x":26.6,"y":23.7},{"x":26.9,"y":24.5},{"x":27,"y":25.0},{"x":27.3,"y":24.6},{"x":27.7,"y":23.9},{"x":28,"y":24.6},{"x":28.3,"y":25.03},{"x":28.6,"y":24.63},{"x":29,"y":25.06},{"x":29.3,"y":24.66},{"x":30,"y":25.1},{"x":30.3,"y":24.7},{"x":32,"y":25.2},{"x":32.3,"y":24.76},{"x":34,"y":25.27},{"x":34.3,"y":24.82},{"x":36,"y":25.32},{"x":36.3,"y":24.88},{"x":38,"y":25.36},{"x":38.3,"y":24.92},{"x":38.8,"y":24.9},{"x":39.1,"y":24.0},{"x":39.4,"y":24.9},{"x":40,"y":25.4},{"x":40.3,"y":24.97},{"x":42,"y":25.45},{"x":42.3,"y":25.02},{"x":44,"y":25.5},{"x":44.3,"y":25.06},{"x":46,"y":25.55},{"x":46.3,"y":25.1},{"x":48,"y":25.6},{"x":48.3,"y":25.14},{"x":50,"y":25.65},{"x":50.3,"y":25.18},{"x":52,"y":25.7},{"x":52.3,"y":25.24},{"x":54,"y":25.75},{"x":54.3,"y":25.3},{"x":56,"y":25.8},{"x":56.3,"y":25.35},{"x":58,"y":25.85},{"x":58.3,"y":25.4},{"x":60,"y":25.88},{"x":60.3,"y":25.45},{"x":70,"y":25.65},{"x":80,"y":25.85},{"x":90,"y":26.05},{"x":100,"y":26.25}],
"B1v":[{"x":0,"y":16},{"x":0.3,"y":18.7},{"x":0.6,"y":19.7},{"x":1,"y":20.9},{"x":2,"y":21.5},{"x":3,"y":21.9},{"x":5,"y":22.5},{"x":7,"y":22.9},{"x":9,"y":23.2},{"x":11,"y":23.45},{"x":13,"y":23.7},{"x":15,"y":23.9},{"x":17,"y":24.05},{"x":20,"y":24.25},{"x":22.8,"y":24.35},{"x":23.1,"y":22.5},{"x":23.4,"y":24.3},{"x":25,"y":24.45},{"x":27.6,"y":24.5},{"x":27.9,"y":23.8},{"x":28.2,"y":24.5},{"x":30,"y":24.6},{"x":35,"y":24.75},{"x":39,"y":24.85},{"x":39.3,"y":24.3},{"x":39.6,"y":24.85},{"x":45,"y":25.0},{"x":50,"y":25.12},{"x":60,"y":25.38},{"x":70,"y":25.6},{"x":80,"y":25.8},{"x":90,"y":26.0},{"x":100,"y":26.18}],
"B2t":[{"x":0,"y":16},{"x":0.3,"y":18.5},{"x":0.6,"y":19.4},{"x":0.95,"y":19.9},{"x":1,"y":20.7},{"x":1.3,"y":20.6},{"x":2,"y":21.3},{"x":2.3,"y":21.2},{"x":2.8,"y":21.4},{"x":3,"y":21.0},{"x":3.3,"y":21.6},{"x":4,"y":22.0},{"x":4.3,"y":21.9},{"x":4.8,"y":22.0},{"x":5,"y":21.2},{"x":5.3,"y":22.1},{"x":6,"y":22.5},{"x":6.3,"y":22.35},{"x":7,"y":22.7},{"x":7.3,"y":22.55},{"x":8,"y":22.9},{"x":8.3,"y":22.7},{"x":9,"y":23.05},{"x":9.3,"y":22.85},{"x":9.8,"y":22.95},{"x":10,"y":22.6},{"x":10.3,"y":23.0},{"x":11,"y":23.3},{"x":11.3,"y":23.1},{"x":12,"y":23.45},{"x":12.3,"y":23.25},{"x":13,"y":23.6},{"x":13.3,"y":23.4},{"x":13.8,"y":23.5},{"x":14,"y":23.2},{"x":14.3,"y":23.55},{"x":15,"y":23.85},{"x":15.3,"y":23.65},{"x":16,"y":23.95},{"x":16.3,"y":23.75},{"x":17,"y":24.05},{"x":17.3,"y":23.85},{"x":18,"y":24.15},{"x":18.3,"y":23.95},{"x":19,"y":24.25},{"x":19.3,"y":24.05},{"x":20,"y":24.35},{"x":20.3,"y":24.15},{"x":22,"y":24.6},{"x":22.3,"y":24.3},{"x":24,"y":24.7},{"x":24.3,"y":24.4},{"x":24.8,"y":24.4},{"x":25,"y":18.8},{"x":25.2,"y":22.5},{"x":25.5,"y":24.3},{"x":26,"y":24.9},{"x":26.3,"y":24.5},{"x":28,"y":25.0},{"x":28.3,"y":24.55},{"x":28.8,"y":24.5},{"x":29,"y":20.8},{"x":29.2,"y":23.0},{"x":29.5,"y":24.5},{"x":30,"y":25.1},{"x":30.3,"y":24.6},{"x":32,"y":25.15},{"x":32.3,"y":24.68},{"x":34,"y":25.2},{"x":34.3,"y":24.74},{"x":36,"y":25.22},{"x":36.3,"y":24.8},{"x":38,"y":25.25},{"x":38.1,"y":24.5},{"x":38.3,"y":20.5},{"x":38.6,"y":24.6},{"x":39,"y":24.85},{"x":40,"y":25.3},{"x":40.3,"y":24.88},{"x":42,"y":25.35},{"x":42.3,"y":24.93},{"x":44,"y":25.4},{"x":44.3,"y":24.9},{"x":44.5,"y":19.3},{"x":44.8,"y":23.5},{"x":45.2,"y":24.9},{"x":46,"y":25.4},{"x":46.3,"y":25.0},{"x":50,"y":25.07},{"x":55,"y":25.15},{"x":57,"y":24.95},{"x":58,"y":25.25},{"x":60,"y":25.33},{"x":65,"y":25.45},{"x":70,"y":25.58},{"x":75,"y":25.7},{"x":80,"y":25.82},{"x":82,"y":26.3},{"x":82.3,"y":25.86},{"x":84,"y":26.35},{"x":84.3,"y":25.9},{"x":86,"y":26.4},{"x":86.3,"y":25.95},{"x":88,"y":26.5},{"x":88.3,"y":26.0},{"x":90,"y":26.55},{"x":90.3,"y":26.05},{"x":92,"y":26.65},{"x":92.3,"y":26.1},{"x":94,"y":26.7},{"x":94.3,"y":26.15},{"x":96,"y":26.75},{"x":96.3,"y":26.2},{"x":98,"y":26.8},{"x":98.3,"y":26.25},{"x":100,"y":26.4}],
"B2v":[{"x":0,"y":16},{"x":0.3,"y":18.4},{"x":0.6,"y":19.3},{"x":1,"y":20.6},{"x":2,"y":21.2},{"x":3,"y":21.6},{"x":5,"y":22.2},{"x":7,"y":22.6},{"x":9,"y":22.95},{"x":11,"y":23.25},{"x":13,"y":23.5},{"x":15,"y":23.75},{"x":17,"y":23.95},{"x":20,"y":24.2},{"x":23,"y":24.4},{"x":25,"y":24.4},{"x":25.4,"y":19.9},{"x":25.7,"y":22.0},{"x":26,"y":24.3},{"x":28.7,"y":24.45},{"x":29.1,"y":20.8},{"x":29.4,"y":23.5},{"x":29.7,"y":24.5},{"x":32,"y":24.6},{"x":37.6,"y":24.7},{"x":38,"y":19.3},{"x":38.4,"y":20.2},{"x":38.7,"y":24.5},{"x":40,"y":24.75},{"x":43,"y":24.85},{"x":44,"y":24.5},{"x":44.5,"y":24.8},{"x":50,"y":25.0},{"x":56,"y":25.1},{"x":57,"y":24.9},{"x":58,"y":25.15},{"x":60,"y":25.3},{"x":70,"y":25.55},{"x":80,"y":25.8},{"x":90,"y":26.05},{"x":100,"y":26.3}],
"C0t":[{"x":0,"y":25},{"x":0.02,"y":26.3},{"x":0.05,"y":27.4},{"x":0.1,"y":28.3},{"x":0.2,"y":29.0},{"x":0.35,"y":29.5},{"x":0.5,"y":29.8},{"x":0.7,"y":30.05},{"x":0.9,"y":30.25},{"x":0.99,"y":30.35},{"x":1,"y":32.5},{"x":1.01,"y":31.2},{"x":1.1,"y":31.5},{"x":1.3,"y":31.7},{"x":1.6,"y":31.9},{"x":1.99,"y":32.05},{"x":2,"y":33.5},{"x":2.01,"y":31.9},{"x":2.05,"y":32.05},{"x":2.5,"y":32.2},{"x":2.99,"y":32.3},{"x":3,"y":33.8},{"x":3.01,"y":30.6},{"x":3.05,"y":32.2},{"x":3.5,"y":32.35},{"x":3.99,"y":32.45},{"x":4,"y":33.7},{"x":4.01,"y":31.2},{"x":4.05,"y":32.35},{"x":4.5,"y":32.5},{"x":4.99,"y":32.55},{"x":5,"y":34.0},{"x":5.01,"y":28.7},{"x":5.06,"y":30.3},{"x":5.18,"y":31.7},{"x":5.43,"y":32.1},{"x":5.99,"y":32.4},{"x":6,"y":34.2},{"x":6.01,"y":32.4},{"x":6.05,"y":32.6},{"x":6.99,"y":32.7},{"x":7,"y":34.2},{"x":7.01,"y":32.2},{"x":7.05,"y":32.7},{"x":7.99,"y":32.85},{"x":8,"y":34.3},{"x":8.01,"y":32.55},{"x":8.05,"y":32.85},{"x":8.99,"y":32.95},{"x":9,"y":34.3},{"x":9.01,"y":32.6},{"x":9.05,"y":32.9},{"x":9.99,"y":33.0},{"x":10,"y":34.3},{"x":10.01,"y":32.6},{"x":10.05,"y":33.0},{"x":10.99,"y":33.1},{"x":11,"y":34.5},{"x":11.01,"y":32.35},{"x":11.05,"y":33.05},{"x":11.99,"y":33.2},{"x":12,"y":34.7},{"x":12.01,"y":32.7},{"x":12.05,"y":33.2},{"x":12.99,"y":33.3},{"x":13,"y":34.9},{"x":13.01,"y":33.0},{"x":13.05,"y":33.3},{"x":13.99,"y":33.4},{"x":14,"y":34.95},{"x":14.01,"y":32.55},{"x":14.05,"y":33.35},{"x":14.99,"y":33.5},{"x":15,"y":35.15},{"x":15.01,"y":33.2},{"x":15.05,"y":33.5},{"x":15.99,"y":33.6},{"x":16,"y":35.15},{"x":16.01,"y":33.4},{"x":16.05,"y":33.6},{"x":16.99,"y":33.7},{"x":17,"y":35.3},{"x":17.01,"y":33.7},{"x":17.05,"y":33.75},{"x":17.99,"y":33.8},{"x":18,"y":35.4},{"x":18.01,"y":33.75},{"x":18.05,"y":33.85},{"x":18.99,"y":33.9},{"x":19,"y":35.5},{"x":19.01,"y":33.85},{"x":19.05,"y":33.93},{"x":20,"y":34.0}],
"C0v":[{"x":0,"y":25},{"x":0.05,"y":27.3},{"x":0.1,"y":28.2},{"x":0.3,"y":29.3},{"x":0.6,"y":29.9},{"x":0.99,"y":30.3},{"x":1,"y":31.3},{"x":1.5,"y":31.7},{"x":2,"y":31.95},{"x":2.5,"y":32.0},{"x":3,"y":32.0},{"x":3.5,"y":32.0},{"x":4,"y":32.1},{"x":4.5,"y":32.3},{"x":5,"y":32.55},{"x":6,"y":32.65},{"x":7,"y":32.75},{"x":8,"y":32.85},{"x":9,"y":32.9},{"x":10,"y":33.0},{"x":11,"y":33.1},{"x":12,"y":33.2},{"x":13,"y":33.35},{"x":14,"y":33.45},{"x":15,"y":33.55},{"x":16,"y":33.65},{"x":17,"y":33.75},{"x":18,"y":33.85},{"x":19,"y":33.92},{"x":20,"y":34.0}],
"C1t":[{"x":0,"y":25},{"x":0.05,"y":27.4},{"x":0.1,"y":28.3},{"x":0.3,"y":29.4},{"x":0.6,"y":29.95},{"x":0.99,"y":30.35},{"x":1,"y":32.9},{"x":1.01,"y":31.4},{"x":1.1,"y":31.65},{"x":1.5,"y":31.85},{"x":1.99,"y":32.0},{"x":2,"y":33.2},{"x":2.01,"y":31.5},{"x":2.05,"y":31.9},{"x":2.5,"y":32.1},{"x":2.99,"y":32.2},{"x":3,"y":33.5},{"x":3.01,"y":31.5},{"x":3.05,"y":32.1},{"x":3.5,"y":32.25},{"x":3.99,"y":32.3},{"x":4,"y":33.6},{"x":4.01,"y":31.5},{"x":4.05,"y":32.2},{"x":4.4,"y":32.3},{"x":4.6,"y":32.1},{"x":4.99,"y":32.4},{"x":5,"y":32.7},{"x":5.05,"y":32.4},{"x":5.99,"y":32.6},{"x":6,"y":33.9},{"x":6.01,"y":32.4},{"x":6.05,"y":32.6},{"x":6.99,"y":32.7},{"x":7,"y":33.9},{"x":7.01,"y":31.9},{"x":7.05,"y":32.6},{"x":7.99,"y":32.85},{"x":8,"y":34.1},{"x":8.01,"y":32.6},{"x":8.05,"y":32.85},{"x":8.99,"y":32.95},{"x":9,"y":34.1},{"x":9.01,"y":32.3},{"x":9.05,"y":32.9},{"x":9.99,"y":33.0},{"x":10,"y":34.2},{"x":10.01,"y":32.5},{"x":10.05,"y":33.0},{"x":10.99,"y":33.1},{"x":11,"y":34.5},{"x":11.01,"y":32.6},{"x":11.05,"y":33.1},{"x":11.99,"y":33.25},{"x":12,"y":34.75},{"x":12.01,"y":32.8},{"x":12.05,"y":33.25},{"x":12.99,"y":33.35},{"x":13,"y":34.9},{"x":13.01,"y":33.1},{"x":13.05,"y":33.35},{"x":13.99,"y":33.45},{"x":14,"y":34.85},{"x":14.01,"y":32.9},{"x":14.05,"y":33.45},{"x":14.99,"y":33.55},{"x":15,"y":35.2},{"x":15.01,"y":33.3},{"x":15.05,"y":33.55},{"x":15.99,"y":33.65},{"x":16,"y":35.1},{"x":16.01,"y":33.5},{"x":16.05,"y":33.65},{"x":16.99,"y":33.75},{"x":17,"y":35.35},{"x":17.01,"y":33.7},{"x":17.05,"y":33.8},{"x":17.99,"y":33.85},{"x":18,"y":35.45},{"x":18.01,"y":33.8},{"x":18.05,"y":33.9},{"x":18.99,"y":33.95},{"x":19,"y":35.4},{"x":19.01,"y":33.9},{"x":20,"y":34.02}],
"C1v":[{"x":0,"y":25},{"x":0.1,"y":28.2},{"x":0.3,"y":29.3},{"x":0.99,"y":30.3},{"x":1,"y":31.5},{"x":1.5,"y":31.8},{"x":2,"y":32.0},{"x":2.5,"y":32.1},{"x":3,"y":32.15},{"x":3.5,"y":32.1},{"x":4,"y":32.0},{"x":4.5,"y":32.1},{"x":5,"y":32.4},{"x":6,"y":32.5},{"x":7,"y":32.55},{"x":8,"y":32.8},{"x":9,"y":32.85},{"x":10,"y":32.95},{"x":11,"y":33.05},{"x":12,"y":33.25},{"x":13,"y":33.4},{"x":14,"y":33.5},{"x":15,"y":33.6},{"x":16,"y":33.65},{"x":17,"y":33.8},{"x":18,"y":33.85},{"x":19,"y":33.95},{"x":20,"y":34.0}],
"C2t":[{"x":0,"y":25},{"x":0.05,"y":27.3},{"x":0.1,"y":28.2},{"x":0.3,"y":29.3},{"x":0.6,"y":29.9},{"x":0.99,"y":30.3},{"x":1,"y":31.0},{"x":1.1,"y":31.3},{"x":1.5,"y":31.6},{"x":1.99,"y":31.8},{"x":2,"y":33.85},{"x":2.01,"y":31.4},{"x":2.05,"y":31.9},{"x":2.5,"y":32.05},{"x":2.99,"y":32.1},{"x":3,"y":33.8},{"x":3.01,"y":31.8},{"x":3.05,"y":32.1},{"x":3.5,"y":32.2},{"x":3.99,"y":32.3},{"x":4,"y":33.7},{"x":4.01,"y":31.9},{"x":4.05,"y":32.2},{"x":4.99,"y":32.35},{"x":5.01,"y":31.8},{"x":5.1,"y":32.1},{"x":5.99,"y":32.4},{"x":6,"y":34.2},{"x":6.01,"y":32.3},{"x":6.05,"y":32.45},{"x":6.99,"y":32.5},{"x":7,"y":34.2},{"x":7.01,"y":32.3},{"x":7.05,"y":32.5},{"x":8,"y":32.6},{"x":9,"y":32.65},{"x":9.99,"y":32.7},{"x":10,"y":34.3},{"x":10.01,"y":32.4},{"x":10.05,"y":32.75},{"x":11,"y":32.85},{"x":12,"y":32.95},{"x":13,"y":33.05},{"x":14,"y":33.15},{"x":15,"y":33.3},{"x":16,"y":33.4},{"x":17,"y":33.55},{"x":18,"y":33.65},{"x":19,"y":33.75},{"x":20,"y":33.85}],
"C2v":[{"x":0,"y":25},{"x":0.1,"y":28.2},{"x":0.3,"y":29.3},{"x":0.99,"y":30.3},{"x":1,"y":31.2},{"x":1.5,"y":31.7},{"x":2,"y":32.4},{"x":2.2,"y":32.7},{"x":2.5,"y":32.6},{"x":3,"y":32.35},{"x":3.5,"y":32.3},{"x":4,"y":32.3},{"x":4.5,"y":32.4},{"x":5,"y":32.6},{"x":6,"y":32.75},{"x":7,"y":32.85},{"x":8,"y":32.75},{"x":9,"y":32.8},{"x":10,"y":32.9},{"x":11,"y":32.95},{"x":12,"y":33.05},{"x":13,"y":33.15},{"x":14,"y":33.25},{"x":15,"y":33.35},{"x":16,"y":33.45},{"x":17,"y":33.6},{"x":18,"y":33.7},{"x":19,"y":33.8},{"x":20,"y":33.88}],
"D0t":[{"x":0,"y":25},{"x":0.006,"y":27.1},{"x":0.015,"y":28.1},{"x":0.03,"y":28.7},{"x":0.063,"y":29.4},{"x":0.096,"y":29.96},{"x":0.128,"y":30.3},{"x":0.177,"y":30.64},{"x":0.258,"y":30.93},{"x":0.35,"y":31.15},{"x":0.42,"y":31.3},{"x":0.5,"y":31.48},{"x":0.58,"y":31.62},{"x":0.648,"y":31.77},{"x":0.696,"y":31.7},{"x":0.75,"y":31.7},{"x":0.83,"y":31.77},{"x":0.907,"y":31.85},{"x":0.997,"y":31.96},{"x":1.0,"y":34.14},{"x":1.003,"y":33.26},{"x":1.02,"y":32.97},{"x":1.035,"y":33.0},{"x":1.05,"y":32.95},{"x":1.07,"y":33.12},{"x":1.15,"y":33.18},{"x":1.25,"y":33.26},{"x":1.5,"y":33.46},{"x":1.75,"y":33.65},{"x":2.0,"y":33.79}],
"D0v":[{"x":1.0,"y":33.3},{"x":1.25,"y":33.5},{"x":1.5,"y":33.75},{"x":1.75,"y":34.0},{"x":2.0,"y":34.23}],
"E0t":[{"x":0,"y":25},{"x":0.003,"y":27.37},{"x":0.013,"y":28.8},{"x":0.03,"y":29.46},{"x":0.054,"y":30.24},{"x":0.087,"y":30.9},{"x":0.137,"y":31.42},{"x":0.186,"y":31.8},{"x":0.25,"y":32.1},{"x":0.35,"y":32.6},{"x":0.5,"y":33.17},{"x":0.6,"y":33.37},{"x":0.75,"y":33.8},{"x":0.91,"y":34.1},{"x":0.997,"y":34.16},{"x":1.0,"y":37.03},{"x":1.003,"y":35.85},{"x":1.02,"y":35.72},{"x":1.035,"y":35.8},{"x":1.06,"y":35.98},{"x":1.25,"y":36.25},{"x":1.5,"y":36.5},{"x":1.75,"y":36.82},{"x":2.0,"y":37.03}],
"E0v":[{"x":1.0,"y":36.2},{"x":1.25,"y":36.55},{"x":1.5,"y":36.95},{"x":1.75,"y":37.4},{"x":2.0,"y":37.9}]
},
"resolve":{"scale":{"color":"independent","strokeDash":"independent"}},
"spacing":39,
"vconcat":[
{"resolve":{"scale":{"color":"independent","strokeDash":"independent"}},"spacing":70.5,"vconcat":[
 {"resolve":{"scale":{"color":"independent","strokeDash":"independent"}},"spacing":44,"hconcat":[
  {"resolve":{"scale":{"color":"independent","strokeDash":"independent"}},"spacing":47,"bounds":"flush","vconcat":[
   {"width":553,"height":171,"title":"Pretraining convergence on Ellipses-Lotus (Sparse 20)",
    "encoding":{"x":{"field":"x","type":"quantitative","scale":{"domain":[-5,105],"nice":false,"zero":false},"axis":{"values":[0,20,40,60,80,100],"title":"Epoch"}},
     "y":{"field":"y","type":"quantitative","scale":{"domain":[16,24.94],"nice":false,"zero":false},"axis":{"values":[16,18,20,22,24],"title":"PSNR [dB]"}}},
    "layer":[
     {"data":{"name":"A1t"},"mark":"line","encoding":{"color":{"datum":"Run 1, train.","type":"nominal","scale":{"domain":["Run 0, train.","Run 0, val.","Run 1, train.","Run 1, val.","Run 2, train.","Run 2, val."],"range":["#3f3f9f","#3f3f9f","#a33d3d","#a33d3d","#3f9f3f","#3f9f3f"]},"legend":{"title":null,"orient":"bottom-right","columns":3,"symbolType":"M-1,0H3"}},"strokeDash":{"datum":"Run 1, train.","type":"nominal","scale":{"domain":["Run 0, train.","Run 0, val.","Run 1, train.","Run 1, val.","Run 2, train.","Run 2, val."],"range":[[1,0],[6.9,3],[1,0],[6.9,3],[1,0],[6.9,3]]},"legend":{"title":null,"orient":"bottom-right","columns":3,"symbolType":"M-1,0H3"}}}},
     {"data":{"name":"A1v"},"mark":"line","encoding":{"color":{"datum":"Run 1, val."},"strokeDash":{"datum":"Run 1, val."}}},
     {"data":{"name":"A2t"},"mark":"line","encoding":{"color":{"datum":"Run 2, train."},"strokeDash":{"datum":"Run 2, train."}}},
     {"data":{"name":"A2v"},"mark":"line","encoding":{"color":{"datum":"Run 2, val."},"strokeDash":{"datum":"Run 2, val."}}},
     {"data":{"name":"A0v"},"mark":"line","encoding":{"color":{"datum":"Run 0, val."},"strokeDash":{"datum":"Run 0, val."}}},
     {"data":{"name":"A0t"},"mark":"line","encoding":{"color":{"datum":"Run 0, train."},"strokeDash":{"datum":"Run 0, train."}}}
    ]},
   {"width":553,"height":56,"data":{"name":"LR"},
    "encoding":{"y":{"field":"lr","type":"quantitative","scale":{"domain":[0,0.000515],"nice":false,"zero":false},"axis":{"values":[0.00002,0.0005],"labelExpr":"datum.value > 0.0001 ? '5.00e-04' : '2.00e-05'","title":null}}},
    "layer":[
     {"mark":"rule","encoding":{"y":{"datum":0}}},
     {"mark":{"type":"line","interpolate":"monotone"},
      "encoding":{"x":{"field":"e100","type":"quantitative","scale":{"domain":[-5,105],"nice":false,"zero":false},"axis":{"orient":"top","values":[0,20,40,60,80,100],"labels":false,"title":null}},
       "color":{"datum":"Learning rate","type":"nominal","scale":{"range":["#000000"]},"legend":{"title":null,"orient":"top-right","symbolType":"M-1,0H3","padding":4}}}}
    ]}
  ]},
  {"resolve":{"scale":{"color":"independent","strokeDash":"independent"}},"spacing":47,"bounds":"flush","vconcat":[
   {"width":553,"height":171,"title":"Pretraining convergence on Ellipses-Lotus (Limited 45)",
    "encoding":{"x":{"field":"x","type":"quantitative","scale":{"domain":[-5,105],"nice":false,"zero":false},"axis":{"values":[0,20,40,60,80,100],"title":"Epoch"}},
     "y":{"field":"y","type":"quantitative","scale":{"domain":[16,27.875],"nice":false,"zero":false},"axis":{"values":[16,18,20,22,24,26],"title":"PSNR [dB]"}}},
    "layer":[
     {"data":{"name":"B1t"},"mark":"line","encoding":{"color":{"datum":"Run 1, train.","type":"nominal","scale":{"domain":["Run 0, train.","Run 0, val.","Run 1, train.","Run 1, val.","Run 2, train.","Run 2, val."],"range":["#3f3f9f","#3f3f9f","#a33d3d","#a33d3d","#3f9f3f","#3f9f3f"]},"legend":{"title":null,"orient":"bottom-right","columns":3,"symbolType":"M-1,0H3"}},"strokeDash":{"datum":"Run 1, train.","type":"nominal","scale":{"domain":["Run 0, train.","Run 0, val.","Run 1, train.","Run 1, val.","Run 2, train.","Run 2, val."],"range":[[1,0],[6.9,3],[1,0],[6.9,3],[1,0],[6.9,3]]},"legend":{"title":null,"orient":"bottom-right","columns":3,"symbolType":"M-1,0H3"}}}},
     {"data":{"name":"B1v"},"mark":"line","encoding":{"color":{"datum":"Run 1, val."},"strokeDash":{"datum":"Run 1, val."}}},
     {"data":{"name":"B2t"},"mark":"line","encoding":{"color":{"datum":"Run 2, train."},"strokeDash":{"datum":"Run 2, train."}}},
     {"data":{"name":"B2v"},"mark":"line","encoding":{"color":{"datum":"Run 2, val."},"strokeDash":{"datum":"Run 2, val."}}},
     {"data":{"name":"B0v"},"mark":"line","encoding":{"color":{"datum":"Run 0, val."},"strokeDash":{"datum":"Run 0, val."}}},
     {"data":{"name":"B0t"},"mark":"line","encoding":{"color":{"datum":"Run 0, train."},"strokeDash":{"datum":"Run 0, train."}}}
    ]},
   {"width":553,"height":56,"data":{"name":"LR"},
    "encoding":{"y":{"field":"lr","type":"quantitative","scale":{"domain":[0,0.000515],"nice":false,"zero":false},"axis":{"values":[0.00002,0.0005],"labelExpr":"datum.value > 0.0001 ? '5.00e-04' : '2.00e-05'","title":null}}},
    "layer":[
     {"mark":"rule","encoding":{"y":{"datum":0}}},
     {"mark":{"type":"line","interpolate":"monotone"},
      "encoding":{"x":{"field":"e100","type":"quantitative","scale":{"domain":[-5,105],"nice":false,"zero":false},"axis":{"orient":"top","values":[0,20,40,60,80,100],"labels":false,"title":null}},
       "color":{"datum":"Learning rate","type":"nominal","scale":{"range":["#000000"]},"legend":{"title":null,"orient":"top-right","symbolType":"M-1,0H3","padding":4}}}}
    ]}
  ]}
 ]},
 {"resolve":{"scale":{"color":"independent","strokeDash":"independent"}},"spacing":0,"hconcat":[
  {"width":255,"height":1,"data":{"values":[{"a":1}]},"mark":{"type":"point","opacity":0},"view":{"fill":"white","stroke":null}},
  {"resolve":{"scale":{"color":"independent","strokeDash":"independent"}},"spacing":50,"bounds":"flush","vconcat":[
   {"width":597,"height":184,"title":{"text":"Pretraining convergence on Ellipses-Walnut (Sparse 120)","offset":1.4},
    "encoding":{"x":{"field":"x","type":"quantitative","scale":{"domain":[-1,21],"nice":false,"zero":false},"axis":{"values":[0,2.5,5,7.5,10,12.5,15,17.5,20],"format":".1f","title":"Epoch"}},
     "y":{"field":"y","type":"quantitative","scale":{"domain":[25,36],"nice":false,"zero":false},"axis":{"values":[26,28,30,32,34,36],"title":"PSNR [dB]"}}},
    "layer":[
     {"data":{"name":"C1t"},"mark":"line","encoding":{"color":{"datum":"Run 1, train.","type":"nominal","scale":{"domain":["Run 0, train.","Run 0, val.","Run 1, train.","Run 1, val.","Run 2, train.","Run 2, val."],"range":["#3f3f9f","#3f3f9f","#a33d3d","#a33d3d","#3f9f3f","#3f9f3f"]},"legend":{"title":null,"orient":"bottom-right","columns":3,"symbolType":"M-1,0H3"}},"strokeDash":{"datum":"Run 1, train.","type":"nominal","scale":{"domain":["Run 0, train.","Run 0, val.","Run 1, train.","Run 1, val.","Run 2, train.","Run 2, val."],"range":[[1,0],[6.9,3],[1,0],[6.9,3],[1,0],[6.9,3]]},"legend":{"title":null,"orient":"bottom-right","columns":3,"symbolType":"M-1,0H3"}}}},
     {"data":{"name":"C1v"},"mark":"line","encoding":{"color":{"datum":"Run 1, val."},"strokeDash":{"datum":"Run 1, val."}}},
     {"data":{"name":"C2t"},"mark":"line","encoding":{"color":{"datum":"Run 2, train."},"strokeDash":{"datum":"Run 2, train."}}},
     {"data":{"name":"C2v"},"mark":"line","encoding":{"color":{"datum":"Run 2, val."},"strokeDash":{"datum":"Run 2, val."}}},
     {"data":{"name":"C0v"},"mark":"line","encoding":{"color":{"datum":"Run 0, val."},"strokeDash":{"datum":"Run 0, val."}}},
     {"data":{"name":"C0t"},"mark":"line","encoding":{"color":{"datum":"Run 0, train."},"strokeDash":{"datum":"Run 0, train."}}}
    ]},
   {"width":597,"height":62,"data":{"name":"LR"},
    "encoding":{"y":{"field":"lr","type":"quantitative","scale":{"domain":[0,0.000515],"nice":false,"zero":false},"axis":{"values":[0.00002,0.0005],"labelExpr":"datum.value > 0.0001 ? '5.00e-04' : '2.00e-05'","title":null}}},
    "layer":[
     {"mark":"rule","encoding":{"y":{"datum":0}}},
     {"mark":{"type":"line","interpolate":"monotone"},
      "encoding":{"x":{"field":"e20","type":"quantitative","scale":{"domain":[-1,21],"nice":false,"zero":false},"axis":{"orient":"top","values":[0,2.5,5,7.5,10,12.5,15,17.5,20],"labels":false,"title":null}},
       "color":{"datum":"Learning rate","type":"nominal","scale":{"range":["#000000"]},"legend":{"title":null,"orient":"top-right","symbolType":"M-1,0H3","padding":4}}}}
    ]}
  ]}
 ]}
]},
{"resolve":{"scale":{"color":"independent","strokeDash":"independent"}},"spacing":44,"hconcat":[
  {"resolve":{"scale":{"color":"independent","strokeDash":"independent"}},"spacing":47,"bounds":"flush","vconcat":[
   {"width":553,"height":171,"title":"Pretraining convergence on Ellipsoids-Walnut (3D Sparse 20)",
    "encoding":{"x":{"field":"x","type":"quantitative","scale":{"domain":[-0.1,2.1],"nice":false,"zero":false},"axis":{"values":[0,0.25,0.5,0.75,1,1.25,1.5,1.75,2],"format":".2f","title":"Epoch"}},
     "y":{"field":"y","type":"quantitative","scale":{"domain":[25,35],"nice":false,"zero":false},"axis":{"values":[26,28,30,32,34],"title":"PSNR [dB]"}}},
    "layer":[
     {"data":{"name":"D0v"},"mark":"line","encoding":{"color":{"datum":"Run 0, val.","type":"nominal","scale":{"domain":["Run 0, train.","Run 0, val."],"range":["#3f3f9f","#3f3f9f"]},"legend":{"title":null,"orient":"bottom-right","columns":1,"symbolType":"M-1,0H3"}},"strokeDash":{"datum":"Run 0, val.","type":"nominal","scale":{"domain":["Run 0, train.","Run 0, val."],"range":[[1,0],[6.9,3]]},"legend":{"title":null,"orient":"bottom-right","columns":1,"symbolType":"M-1,0H3"}}}},
     {"data":{"name":"D0t"},"mark":"line","encoding":{"color":{"datum":"Run 0, train."},"strokeDash":{"datum":"Run 0, train."}}}
    ]},
   {"width":553,"height":56,"data":{"name":"LR"},
    "encoding":{"y":{"field":"lr","type":"quantitative","scale":{"domain":[0,0.000515],"nice":false,"zero":false},"axis":{"values":[0.00002,0.0005],"labelExpr":"datum.value > 0.0001 ? '5.00e-04' : '2.00e-05'","title":null}}},
    "layer":[
     {"mark":"rule","encoding":{"y":{"datum":0}}},
     {"mark":{"type":"line","interpolate":"monotone"},
      "encoding":{"x":{"field":"e2","type":"quantitative","scale":{"domain":[-0.1,2.1],"nice":false,"zero":false},"axis":{"orient":"top","values":[0,0.25,0.5,0.75,1,1.25,1.5,1.75,2],"labels":false,"title":null}},
       "color":{"datum":"Learning rate","type":"nominal","scale":{"range":["#000000"]},"legend":{"title":null,"orient":"top-right","symbolType":"M-1,0H3","padding":4}}}}
    ]}
  ]},
  {"resolve":{"scale":{"color":"independent","strokeDash":"independent"}},"spacing":47,"bounds":"flush","vconcat":[
   {"width":553,"height":171,"title":"Pretraining convergence on Ellipsoids-Walnut (3D Sparse 60)",
    "encoding":{"x":{"field":"x","type":"quantitative","scale":{"domain":[-0.1,2.1],"nice":false,"zero":false},"axis":{"values":[0,0.25,0.5,0.75,1,1.25,1.5,1.75,2],"format":".2f","title":"Epoch"}},
     "y":{"field":"y","type":"quantitative","scale":{"domain":[25,38.36],"nice":false,"zero":false},"axis":{"values":[25,27.5,30,32.5,35,37.5],"format":".1f","title":"PSNR [dB]"}}},
    "layer":[
     {"data":{"name":"E0v"},"mark":"line","encoding":{"color":{"datum":"Run 0, val.","type":"nominal","scale":{"domain":["Run 0, train.","Run 0, val."],"range":["#3f3f9f","#3f3f9f"]},"legend":{"title":null,"orient":"bottom-right","columns":1,"symbolType":"M-1,0H3"}},"strokeDash":{"datum":"Run 0, val.","type":"nominal","scale":{"domain":["Run 0, train.","Run 0, val."],"range":[[1,0],[6.9,3]]},"legend":{"title":null,"orient":"bottom-right","columns":1,"symbolType":"M-1,0H3"}}}},
     {"data":{"name":"E0t"},"mark":"line","encoding":{"color":{"datum":"Run 0, train."},"strokeDash":{"datum":"Run 0, train."}}}
    ]},
   {"width":553,"height":56,"data":{"name":"LR"},
    "encoding":{"y":{"field":"lr","type":"quantitative","scale":{"domain":[0,0.000515],"nice":false,"zero":false},"axis":{"values":[0.00002,0.0005],"labelExpr":"datum.value > 0.0001 ? '5.00e-04' : '2.00e-05'","title":null}}},
    "layer":[
     {"mark":"rule","encoding":{"y":{"datum":0}}},
     {"mark":{"type":"line","interpolate":"monotone"},
      "encoding":{"x":{"field":"e2","type":"quantitative","scale":{"domain":[-0.1,2.1],"nice":false,"zero":false},"axis":{"orient":"top","values":[0,0.25,0.5,0.75,1,1.25,1.5,1.75,2],"labels":false,"title":null}},
       "color":{"datum":"Learning rate","type":"nominal","scale":{"range":["#000000"]},"legend":{"title":null,"orient":"top-right","symbolType":"M-1,0H3","padding":4}}}}
    ]}
  ]}
]}
]
}
